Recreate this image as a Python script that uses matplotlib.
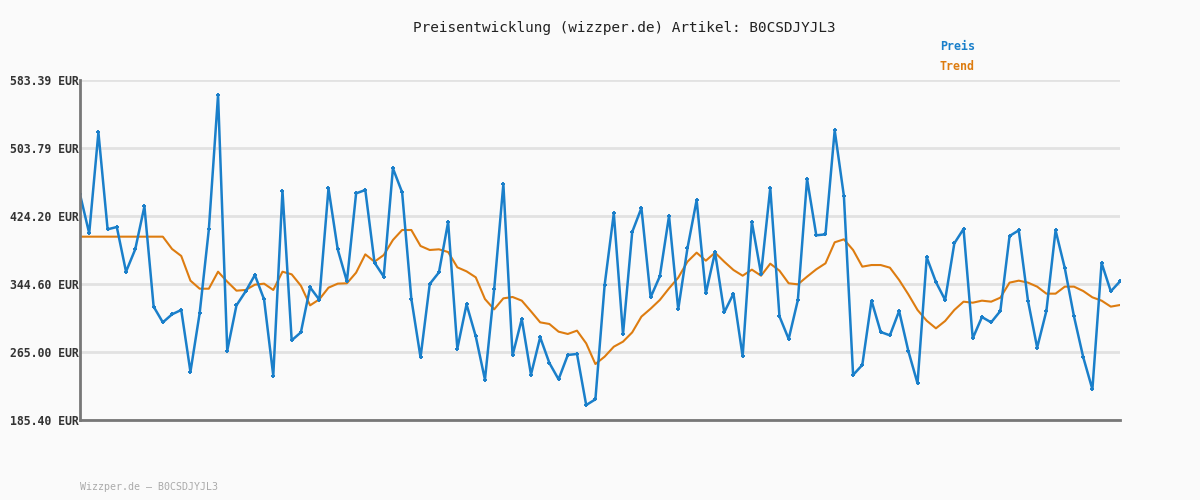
import matplotlib
matplotlib.use("Agg")
import matplotlib.pyplot as plt

title = "Preisentwicklung (wizzper.de) Artikel: B0CSDJYJL3"
footer = "Wizzper.de \u2013 B0CSDJYJL3"
y_ticks = [185.40, 265.00, 344.60, 424.20, 503.79, 583.39]
y_tick_labels = ["185.40 EUR", "265.00 EUR", "344.60 EUR", "424.20 EUR", "503.79 EUR", "583.39 EUR"]

preis = [449.6, 403.9, 522.1, 408.6, 411.3, 359.0, 385.2, 435.5, 318.1, 299.7,
         309.1, 314.2, 241.8, 310.3, 408.6, 565.8, 266.6, 319.6, 336.0, 355.1,
         326.6, 237.3, 453.5, 278.6, 288.0, 340.7, 326.2, 456.6, 385.2, 347.7,
         450.7, 454.6, 369.6, 353.2, 480.0, 451.9, 327.4, 258.7, 344.6, 358.2,
         417.2, 268.9, 320.8, 283.3, 232.6, 338.3, 461.6, 261.1, 303.6, 238.5,
         282.2, 252.1, 233.0, 261.5, 262.7, 202.9, 209.6, 343.0, 427.3, 285.7,
         405.5, 433.6, 329.0, 353.6, 424.2, 315.0, 386.3, 442.9, 333.7, 381.7,
         311.4, 333.3, 259.9, 417.2, 356.3, 457.0, 306.7, 280.2, 325.9, 467.5,
         401.6, 402.7, 524.5, 447.6, 238.1, 249.8, 325.1, 288.4, 284.5, 313.0,
         266.2, 228.3, 375.8, 346.9, 325.9, 392.2, 409.0, 281.0, 305.9, 299.7,
         313.0, 400.8, 407.4, 325.1, 270.1, 313.0, 407.4, 363.3, 306.7, 259.1,
         221.3, 369.2, 336.0, 347.7]

trend = [400.0, 400.0, 400.0, 400.0, 400.0, 400.0, 400.0, 400.0, 400.0, 400.0,
         385.6, 377.4, 348.5, 339.1, 339.1, 359.0, 347.3, 336.8, 337.6, 343.8,
         345.0, 337.6, 359.0, 355.9, 342.6, 319.6, 326.6, 340.3, 345.0, 345.4,
         357.9, 379.3, 370.7, 378.5, 396.1, 407.8, 407.8, 389.1, 384.4, 385.2,
         382.0, 364.1, 359.4, 352.4, 327.0, 314.9, 327.8, 329.4, 325.1, 312.6,
         299.7, 297.8, 288.8, 286.1, 290.0, 275.1, 250.9, 259.5, 271.2, 277.1,
         288.0, 306.4, 315.7, 325.9, 339.5, 352.0, 370.7, 381.3, 371.9, 381.3,
         370.7, 361.0, 354.3, 361.4, 354.3, 368.4, 360.2, 345.4, 344.2, 353.2,
         361.8, 368.8, 393.4, 396.9, 384.4, 364.9, 366.8, 366.8, 363.7, 349.3,
         332.5, 314.2, 301.6, 292.7, 301.3, 314.2, 323.9, 322.7, 325.1, 323.9,
         328.6, 346.2, 348.5, 346.2, 341.5, 333.3, 333.3, 341.5, 341.5, 336.4,
         329.0, 325.1, 318.1, 320.0]

BG = "#fafafa"
BLUE = "#1a7fca"
ORANGE = "#dd7c10"
MONO = "DejaVu Sans Mono"

fig = plt.figure(figsize=(12, 5), dpi=100, facecolor=BG)
ax = fig.add_axes([80 / 1200, 80 / 500, 1040 / 1200, 340 / 500], facecolor=BG)

x = list(range(len(preis)))
ax.plot(x, trend, color=ORANGE, lw=1.5, zorder=3)
ax.plot(x, preis, color=BLUE, lw=1.8, marker="+", ms=3.5, mew=1.4, zorder=4)

ax.set_xlim(0, len(preis) - 1)
ax.set_ylim(y_ticks[0], y_ticks[-1])
ax.set_yticks(y_ticks)
ax.set_yticklabels(y_tick_labels, family=MONO, fontsize=8.3, fontweight="bold", color="#333333")
ax.set_xticks([])
ax.tick_params(axis="y", length=0, pad=1)
ax.grid(axis="y", color="#e2e2e2", lw=2, zorder=0)
for s in ["top", "right"]:
    ax.spines[s].set_visible(False)
for s in ["left", "bottom"]:
    ax.spines[s].set_color("#777777")
    ax.spines[s].set_linewidth(2)
    ax.spines[s].set_zorder(5)

fig.text(624 / 1200, 1 - 28 / 500, title, family=MONO, fontsize=10.4, color="#222222",
         ha="center", va="center")
fig.text(940 / 1200, 1 - 47 / 500, "Preis", family=MONO, fontsize=8.4, fontweight="bold",
         color=BLUE, ha="left", va="center")
fig.text(940 / 1200, 1 - 67 / 500, "Trend", family=MONO, fontsize=8.4, fontweight="bold",
         color=ORANGE, ha="left", va="center")
fig.text(80 / 1200, 1 - 487 / 500, footer, family=MONO, fontsize=7.2, color="#aaaaaa",
         ha="left", va="center")

fig.savefig("out.png", dpi=100, facecolor=BG)
